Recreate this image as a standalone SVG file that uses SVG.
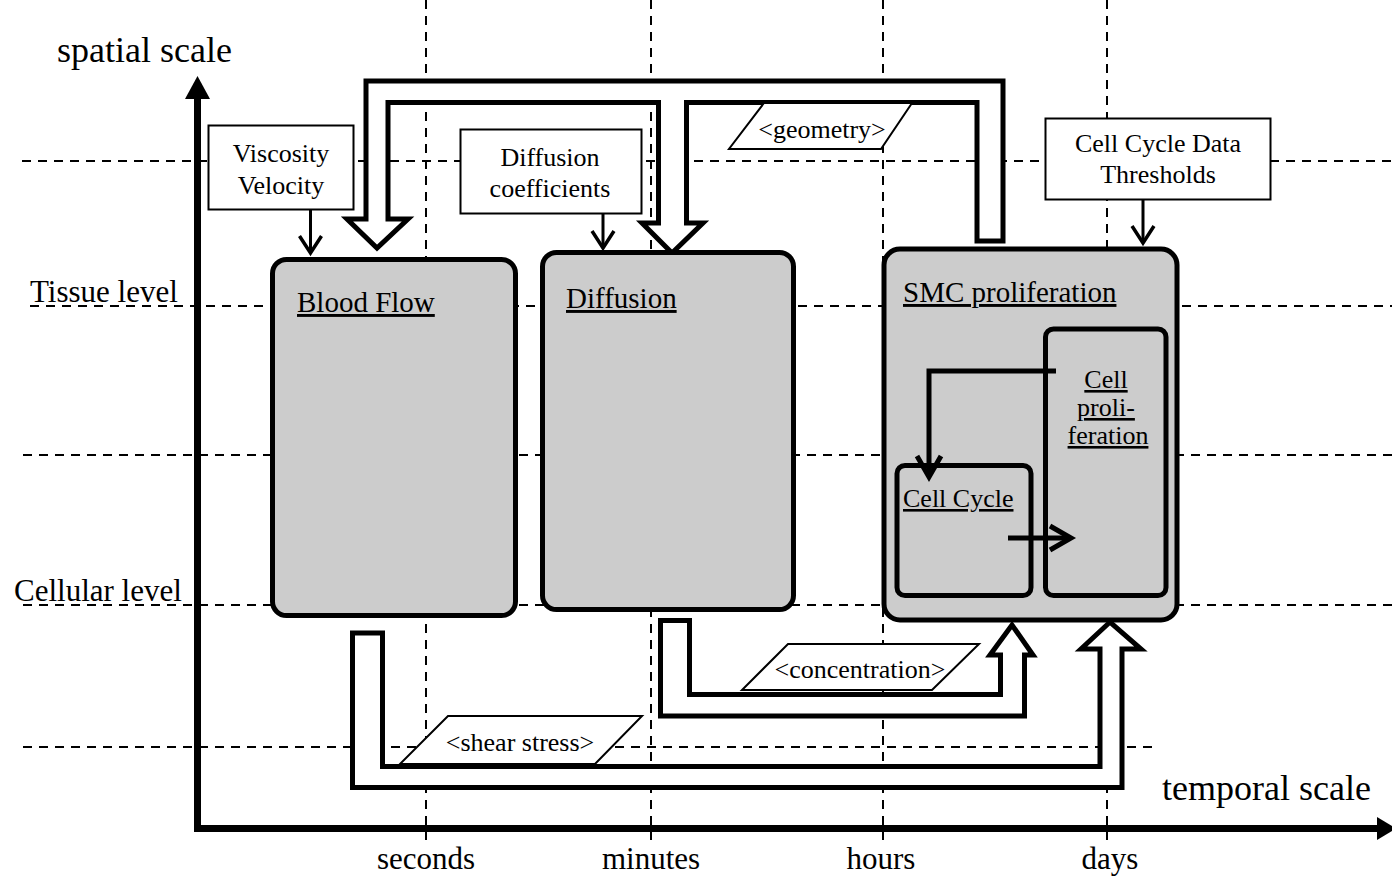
<svg xmlns="http://www.w3.org/2000/svg" width="1392" height="876" viewBox="0 0 1392 876">
  <style>
    text { font-family: "Liberation Serif", "Times New Roman", serif; fill: #000; }
    .grid { stroke: #000; stroke-width: 2; stroke-dasharray: 9 7; fill: none; }
    .axis { stroke: #000; stroke-width: 7; fill: none; }
    .model { fill: #cccccc; stroke: #000; stroke-width: 5; }
    .sub { fill: #cccccc; stroke: #000; stroke-width: 5; }
    .input { fill: #fff; stroke: #000; stroke-width: 2; }
    .band { fill: #fff; stroke: #000; stroke-width: 5; stroke-linejoin: miter; }
    .tag { fill: #fff; stroke: #000; stroke-width: 2; }
    .feed { fill: none; stroke: #000; stroke-width: 3; marker-end: url(#chev); }
    .inner { fill: none; stroke: #000; stroke-width: 5; marker-end: url(#chevL); }
    .title { font-size: 29px; text-decoration: underline; }
    .subtitle { font-size: 26px; text-decoration: underline; }
    .in { font-size: 26px; text-anchor: middle; }
    .lbl { font-size: 26px; text-anchor: middle; }
    .scale { font-size: 36px; }
    .level { font-size: 31px; }
    .time { font-size: 31px; text-anchor: middle; }
  </style>
  <defs>
    <marker id="chev" markerUnits="userSpaceOnUse" markerWidth="40" markerHeight="40" viewBox="-25 -20 40 40" refX="0" refY="0" orient="auto">
      <path d="M-17,-11 L0,0 L-17,11" fill="none" stroke="#000" stroke-width="3.5"/>
    </marker>
    <marker id="chevL" markerUnits="userSpaceOnUse" markerWidth="50" markerHeight="50" viewBox="-30 -25 50 50" refX="0" refY="0" orient="auto">
      <path d="M-21,-12 L0,0 L-21,12" fill="none" stroke="#000" stroke-width="5"/>
    </marker>
  </defs>

  <rect width="1392" height="876" fill="#fff"/>

  <!-- scale grid -->
  <g id="grid">
    <line class="grid" x1="22" y1="161" x2="1392" y2="161"/>
    <line class="grid" x1="30" y1="306" x2="1392" y2="306"/>
    <line class="grid" x1="23" y1="455" x2="1392" y2="455"/>
    <line class="grid" x1="23" y1="605" x2="1392" y2="605"/>
    <line class="grid" x1="23" y1="747" x2="1155" y2="747"/>
    <line class="grid" x1="426" y1="0" x2="426" y2="840"/>
    <line class="grid" x1="651" y1="0" x2="651" y2="840"/>
    <line class="grid" x1="883" y1="0" x2="883" y2="840"/>
    <line class="grid" x1="1107" y1="0" x2="1107" y2="840"/>
  </g>

  <!-- axes -->
  <g id="axes">
    <line class="axis" x1="197.5" y1="832" x2="197.5" y2="98"/>
    <polygon points="185,99 197.5,76 210,99" fill="#000"/>
    <line class="axis" x1="194" y1="828.5" x2="1379" y2="828.5"/>
    <polygon points="1377,817 1396,828.5 1377,840" fill="#000"/>
    <text class="scale" x="57" y="62">spatial scale</text>
    <text class="scale" x="1162" y="800">temporal scale</text>
    <text class="level" x="30" y="302">Tissue level</text>
    <text class="level" x="14" y="601">Cellular level</text>
    <text class="time" x="426" y="869">seconds</text>
    <text class="time" x="651" y="869">minutes</text>
    <text class="time" x="881" y="869">hours</text>
    <text class="time" x="1110" y="869">days</text>
  </g>

  <!-- coupling connectors -->
  <g id="connectors">
    <path id="geometry-link" class="band" d="M366,81 L1003,81 L1003,241 L977,241 L977,102.5 L686.5,102.5 L686.5,223 L703,223 L672,253 L642,223 L658.5,223 L658.5,102.5 L388,102.5 L388,219 L408,219 L377,248 L347,219 L366,219 Z"/>
    <path id="shear-link" class="band" d="M352.5,633 L382.5,633 L382.5,766.5 L1100,766.5 L1100,649 L1081,649 L1110,622 L1141,649 L1122,649 L1122,787.5 L352.5,787.5 Z"/>
    <path id="concentration-link" class="band" d="M660.5,620.5 L689.5,620.5 L689.5,694.5 L1000.5,694.5 L1000.5,655 L990,655 L1012,625 L1033,655 L1024.5,655 L1024.5,716 L660.5,716 Z"/>

    <polygon class="tag" points="764,103 912,103 881,149 729,149"/>
    <text class="lbl" x="822" y="138">&lt;geometry&gt;</text>
    <polygon class="tag" points="788,644 979,644 932,690 742,690"/>
    <text class="lbl" x="860" y="678">&lt;concentration&gt;</text>
    <polygon class="tag" points="448,716 642,716 595,764 400,764"/>
    <text class="lbl" x="520" y="751">&lt;shear stress&gt;</text>

    <line class="feed" x1="310.5" y1="209" x2="310.5" y2="253"/>
    <line class="feed" x1="603" y1="213" x2="603" y2="248"/>
    <line class="feed" x1="1143" y1="199" x2="1143" y2="243"/>
  </g>

  <!-- parameter inputs -->
  <g id="in-viscosity">
    <rect class="input" x="208.5" y="125.5" width="145" height="84"/>
    <text class="in" x="281" y="162">Viscosity</text>
    <text class="in" x="281" y="194">Velocity</text>
  </g>
  <g id="in-diffusion">
    <rect class="input" x="460.5" y="129.5" width="181" height="84"/>
    <text class="in" x="550" y="166">Diffusion</text>
    <text class="in" x="550" y="197">coefficients</text>
  </g>
  <g id="in-cellcycle">
    <rect class="input" x="1045.5" y="118.5" width="225" height="81"/>
    <text class="in" x="1158" y="152">Cell Cycle Data</text>
    <text class="in" x="1158" y="183">Thresholds</text>
  </g>

  <!-- models -->
  <g id="blood-flow">
    <rect class="model" x="272.5" y="259.5" width="243" height="356" rx="14"/>
    <text class="title" x="297" y="312">Blood Flow</text>
  </g>
  <g id="diffusion">
    <rect class="model" x="542.5" y="252.5" width="251" height="357" rx="14"/>
    <text class="title" x="566" y="308">Diffusion</text>
  </g>
  <g id="smc-proliferation">
    <rect class="model" x="884" y="249" width="293" height="371" rx="16"/>
    <text class="title" x="903" y="302">SMC proliferation</text>
  </g>
  <g id="cell-proliferation">
    <rect class="sub" x="1045.5" y="329" width="120.5" height="266.5" rx="8"/>
    <text class="subtitle" x="1106" y="388" text-anchor="middle">Cell</text>
    <text class="subtitle" x="1106" y="416" text-anchor="middle">proli-</text>
    <text class="subtitle" x="1108" y="444" text-anchor="middle">feration</text>
  </g>
  <g id="cell-cycle">
    <rect class="sub" x="897" y="465.5" width="134" height="130" rx="8"/>
    <text class="subtitle" x="903" y="507">Cell Cycle</text>
  </g>
  <g id="inner-connectors">
    <polyline class="inner" points="1056,371 929,371 929,477"/>
    <line class="inner" x1="1008" y1="538" x2="1071" y2="538"/>
  </g>
</svg>
